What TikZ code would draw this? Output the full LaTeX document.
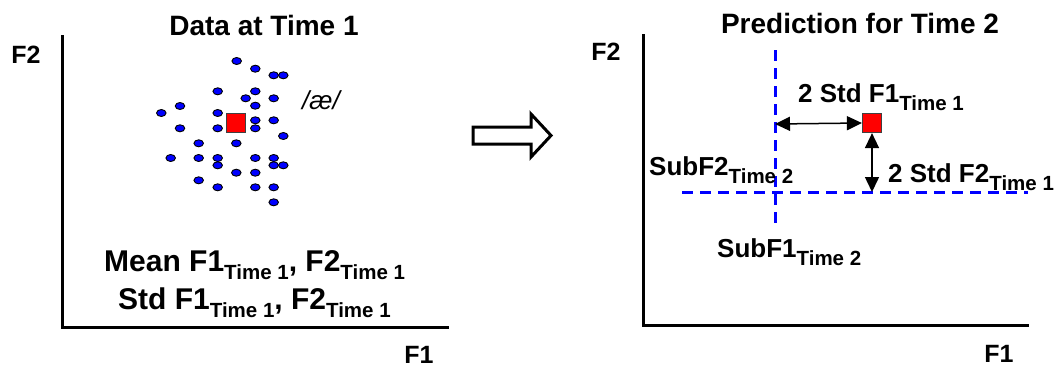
\documentclass[tikz,border=0pt]{standalone}
\usepackage{fontspec}
\setmainfont{Liberation Sans}
\usepackage{tikz}
\usetikzlibrary{arrows.meta}
\usetikzlibrary{backgrounds,positioning,calc}
\usetikzlibrary{shapes,shapes.geometric}
\pgfdeclarelayer{edgelayer}
\pgfdeclarelayer{nodelayer}
\pgfsetlayers{background,edgelayer,nodelayer,main}
\tikzstyle{none}=[inner sep=0mm]
\tikzstyle{ttl}=[inner sep=0pt,font=\fontsize{28}{32}\selectfont\bfseries]
\tikzstyle{axlbl}=[inner sep=0pt,font=\fontsize{25}{30}\selectfont\bfseries]
\tikzstyle{stat}=[inner sep=0pt,font=\fontsize{30}{36}\selectfont\bfseries]
\tikzstyle{lbl}=[inner sep=0pt,font=\fontsize{26}{30}\selectfont\bfseries]
\tikzstyle{vowel}=[inner sep=0pt,font=\fontsize{26}{30}\selectfont\itshape]
\tikzstyle{blue dot}=[shape=ellipse,fill=blue,draw=black,line width=0.9pt,minimum width=9.5pt,minimum height=7pt,inner sep=0pt]
\tikzstyle{red box}=[shape=rectangle,fill=red,draw=black!75,line width=1.2pt,minimum size=19pt,inner sep=0pt]
\tikzstyle{axis}=[line width=3pt,line cap=rect]
\tikzstyle{guide}=[draw=blue,line width=3pt,dash pattern=on 11pt off 7pt]
\tikzstyle{span}=[line width=1.5pt,{Triangle[length=15pt,width=14pt]}-{Triangle[length=15pt,width=14pt]}]
\newcommand{\tsub}[1]{\raisebox{-8.5pt}{\fontsize{20.5}{20.5}\selectfont #1}}

\begin{document}
\begin{tikzpicture}[x=1pt,y=-1pt]
	\useasboundingbox (0,0) rectangle (1062,367);
	\begin{pgfonlayer}{nodelayer}
		% left plot
		\node [style=ttl,anchor=base] (t1) at (264, 35) {Data at Time 1};
		\node [style=axlbl,anchor=base] (f2l) at (26, 63) {F2};
		\node [style=axlbl,anchor=base] (f1l) at (419, 363) {F1};
		\node [style=none] (yl) at (62.7, 36) {};
		\node [style=none] (ol) at (62.7, 327) {};
		\node [style=none] (xl) at (447, 327) {};
		\node [style=blue dot] (d1) at (236.7, 61) {};
		\node [style=blue dot] (d2) at (255.3, 68.7) {};
		\node [style=blue dot] (d3) at (273.7, 75.3) {};
		\node [style=blue dot] (d4) at (283.3, 75.3) {};
		\node [style=blue dot] (d5) at (217.7, 91.3) {};
		\node [style=blue dot] (d6) at (255.3, 91.3) {};
		\node [style=blue dot] (d7) at (245.7, 98.3) {};
		\node [style=blue dot] (d8) at (273.7, 98.3) {};
		\node [style=blue dot] (d9) at (255.3, 105.7) {};
		\node [style=blue dot] (d10) at (180, 106) {};
		\node [style=blue dot] (d11) at (161.3, 113) {};
		\node [style=blue dot] (d12) at (217.7, 113) {};
		\node [style=blue dot] (d13) at (255.3, 120.3) {};
		\node [style=blue dot] (d14) at (273.7, 120.3) {};
		\node [style=blue dot] (d15) at (180, 128.3) {};
		\node [style=blue dot] (d16) at (217.7, 128.3) {};
		\node [style=blue dot] (d17) at (255.3, 128.3) {};
		\node [style=blue dot] (d18) at (283.3, 136) {};
		\node [style=blue dot] (d19) at (198.7, 143.3) {};
		\node [style=blue dot] (d20) at (236.3, 143.3) {};
		\node [style=blue dot] (d21) at (170.7, 158) {};
		\node [style=blue dot] (d22) at (198.7, 158) {};
		\node [style=blue dot] (d23) at (217.7, 158) {};
		\node [style=blue dot] (d24) at (255.3, 158) {};
		\node [style=blue dot] (d25) at (273.7, 158) {};
		\node [style=blue dot] (d26) at (217.7, 165.3) {};
		\node [style=blue dot] (d27) at (273.7, 165.3) {};
		\node [style=blue dot] (d28) at (283.3, 165.3) {};
		\node [style=blue dot] (d29) at (236.3, 172.7) {};
		\node [style=blue dot] (d30) at (255.3, 172.7) {};
		\node [style=blue dot] (d31) at (198.7, 180.3) {};
		\node [style=blue dot] (d32) at (217.7, 187.3) {};
		\node [style=blue dot] (d33) at (255.3, 187.3) {};
		\node [style=blue dot] (d34) at (273.7, 187.3) {};
		\node [style=blue dot] (d35) at (273.7, 202.3) {};
		\node [style=red box] (m1) at (236.3, 122.7) {};
		\node [style=vowel,anchor=base] (ae) at (321, 109) {/æ/};
		\node [style=stat,anchor=base west] (mean) at (104, 271) {Mean F1\tsub{Time 1}, F2\tsub{Time 1}};
		\node [style=stat,anchor=base west] (std) at (118, 309) {Std F1\tsub{Time 1}, F2\tsub{Time 1}};
		% right plot
		\node [style=ttl,anchor=base] (t2) at (860, 33) {Prediction for Time 2};
		\node [style=axlbl,anchor=base] (f2r) at (606, 60) {F2};
		\node [style=axlbl,anchor=base] (f1r) at (999, 362) {F1};
		\node [style=none] (yr) at (643, 35) {};
		\node [style=none] (or) at (643, 325) {};
		\node [style=none] (xr) at (1027, 325) {};
		\node [style=none] (vt) at (775, 50) {};
		\node [style=none] (vb) at (775, 229) {};
		\node [style=none] (hl) at (682, 192) {};
		\node [style=none] (hr) at (1028, 192) {};
		\node [style=none] (va) at (775, 124) {};
		\node [style=none] (ha) at (872, 192) {};
		\node [style=red box] (m2) at (872, 123) {};
		\node [style=lbl,anchor=base west] (sd1) at (798, 102) {2 Std F1\tsub{Time 1}};
		\node [style=lbl,anchor=base west] (sd2) at (888, 182) {2 Std F2\tsub{Time 1}};
		\node [style=lbl,anchor=base west] (sub2) at (649, 175) {SubF2\tsub{Time 2}};
		\node [style=lbl,anchor=base west] (sub1) at (717, 257) {SubF1\tsub{Time 2}};
	\end{pgfonlayer}
	\begin{pgfonlayer}{edgelayer}
		\draw [style=axis] (yl.center) to (ol.center) to (xl.center);
		\draw [style=axis] (yr.center) to (or.center) to (xr.center);
		\draw [style=guide] (vt.center) to (vb.center);
		\draw [style=guide] (hl.center) to (hr.center);
		\draw [style=span] (va.center) to (m2.west);
		\draw [style=span] (m2.south) to (ha.center);
		% hollow arrow between the plots
		\draw [line width=3pt,fill=white,line join=miter] (473,127) -- (531,127) -- (531,114) -- (551,135.5) -- (531,157) -- (531,144) -- (473,144) -- cycle;
	\end{pgfonlayer}
\end{tikzpicture}
\end{document}
